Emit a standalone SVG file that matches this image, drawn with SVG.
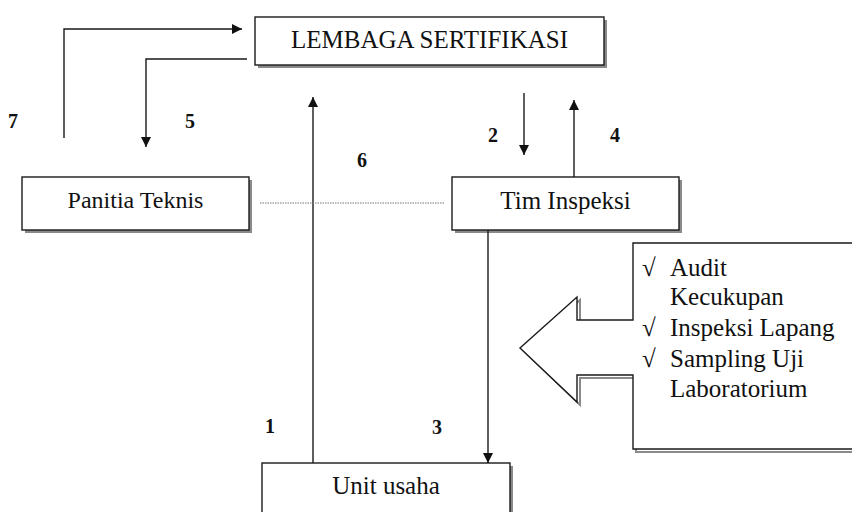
<svg xmlns="http://www.w3.org/2000/svg" width="852" height="512" viewBox="0 0 852 512">
<defs>
<style>
.box{fill:#fff;stroke:#1a1a1a;stroke-width:1.4}
.sh{fill:#8a8a8a;stroke:none}
.t{font-family:'Liberation Serif','Times New Roman',Times,serif;font-size:25px;fill:#111}
.n{font-family:'Liberation Serif','Times New Roman',Times,serif;font-size:20px;font-weight:bold;fill:#111}
.ln{fill:none;stroke:#1a1a1a;stroke-width:1.4}
</style>
<marker id="ah" viewBox="0 0 10 10" refX="10" refY="5" markerWidth="10" markerHeight="10" markerUnits="userSpaceOnUse" orient="auto">
<path d="M0,0 L10,5 L0,10 Z" fill="#111"/>
</marker>
</defs>
<rect width="852" height="512" fill="#fff"/>

<g id="lembaga">
<rect class="sh" x="258" y="20" width="349" height="48"/>
<rect class="box" x="255" y="17" width="349" height="48"/>
<text class="t" x="429.5" y="48" text-anchor="middle">LEMBAGA SERTIFIKASI</text>
</g>

<g id="panitia">
<rect class="sh" x="25" y="180" width="227" height="53"/>
<rect class="box" x="22" y="177" width="227" height="53"/>
<text class="t" x="135.5" y="208" text-anchor="middle" style="font-size:24px">Panitia Teknis</text>
</g>

<g id="tim">
<rect class="sh" x="455" y="180" width="227" height="53"/>
<rect class="box" x="452" y="177" width="227" height="53"/>
<text class="t" x="565.5" y="209" text-anchor="middle">Tim Inspeksi</text>
</g>

<g id="unit">
<rect class="sh" x="265" y="466" width="248" height="60"/>
<rect class="box" x="262" y="463" width="248" height="60"/>
<text class="t" x="386" y="494" text-anchor="middle">Unit usaha</text>
</g>

<g id="kegiatan">
<polyline points="855,246 636,246 636,323 580,323 580,300 523,350 580,405 580,378 636,378 636,452 855,452" fill="none" stroke="#8a8a8a" stroke-width="2"/>
<polygon points="852,243 633,243 633,320 577,320 577,297 520,348 577,402 577,375 633,375 633,449 852,449 856,449 856,243" fill="#fff" stroke="none"/>
<polyline class="ln" points="852,243 633,243 633,320 577,320 577,297 520,348 577,402 577,375 633,375 633,449 852,449"/>
<text class="t" x="642" y="276">√</text>
<text class="t" x="670" y="276">Audit</text>
<text class="t" x="670" y="305">Kecukupan</text>
<text class="t" x="642" y="336">√</text>
<text class="t" x="670" y="336">Inspeksi Lapang</text>
<text class="t" x="642" y="367">√</text>
<text class="t" x="670" y="367">Sampling Uji</text>
<text class="t" x="670" y="397">Laboratorium</text>
</g>

<g id="connectors">
<polyline class="ln" points="64,138 64,29 242,29" marker-end="url(#ah)"/>
<polyline class="ln" points="247,59 146,59 146,147" marker-end="url(#ah)"/>
<line class="ln" x1="313" y1="463" x2="313" y2="97" marker-end="url(#ah)"/>
<line class="ln" x1="524" y1="93" x2="524" y2="155" marker-end="url(#ah)"/>
<line class="ln" x1="574" y1="177" x2="574" y2="100" marker-end="url(#ah)"/>
<line class="ln" x1="488" y1="230" x2="488" y2="463" marker-end="url(#ah)"/>
<line x1="260" y1="203" x2="445" y2="203" stroke="#777" stroke-width="1.2" stroke-dasharray="1.5 1"/>
</g>

<g id="labels">
<text class="n" x="8" y="128">7</text>
<text class="n" x="185" y="128">5</text>
<text class="n" x="357" y="167">6</text>
<text class="n" x="488" y="142">2</text>
<text class="n" x="610" y="142">4</text>
<text class="n" x="265" y="433">1</text>
<text class="n" x="432" y="434">3</text>
</g>
</svg>
